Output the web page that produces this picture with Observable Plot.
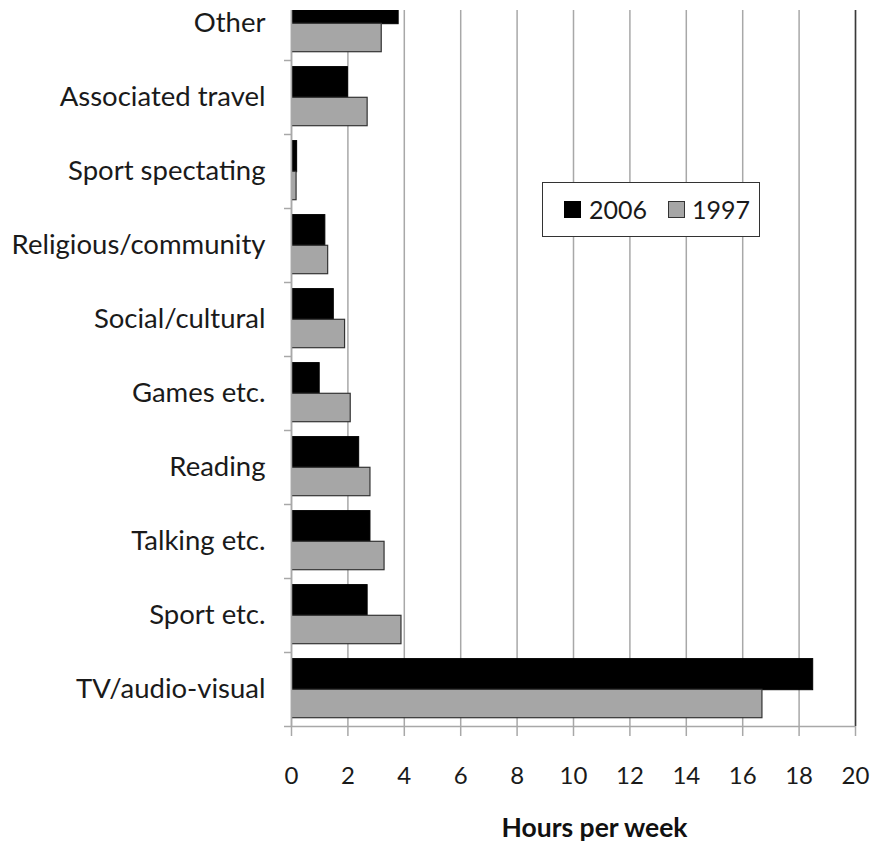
<!DOCTYPE html>
<html>
<head>
<meta charset="utf-8">
<script src="https://cdn.jsdelivr.net/npm/d3@7"></script>
<script src="https://cdn.jsdelivr.net/npm/@observablehq/plot@0.6"></script>
<style>
  body { margin: 0; background: #fff; font-family: Lato, sans-serif; }
  #wrap { position: relative; width: 873px; height: 843px; overflow: hidden; background: #fff; }
  #chart { position: absolute; left: 0; top: 10px; }
  #chart svg { overflow: visible; }
  #legend { position: absolute; left: 542px; top: 182px; width: 216px; height: 53px;
            border: 1.5px solid #333; background: #fff; }
  .sw { position: absolute; width: 15px; height: 15px; border: 1px solid #222; box-sizing: content-box; }
  .lt { position: absolute; font-size: 25px; color: #1a1a1a; line-height: 1; }
</style>
</head>
<body>
<div id="wrap">
  <div id="chart"></div>
  <div id="legend"></div>
</div>
<script>
// Leisure time by activity, hours per week (top to bottom)
const categories = [
  "Other", "Associated travel", "Sport spectating", "Religious/community",
  "Social/cultural", "Games etc.", "Reading", "Talking etc.", "Sport etc.",
  "TV/audio-visual"
];
const hours2006 = [3.8, 2.0, 0.2, 1.2, 1.5, 1.0, 2.4, 2.8, 2.7, 18.5];
const hours1997 = [3.2, 2.7, 0.18, 1.3, 1.9, 2.1, 2.8, 3.3, 3.9, 16.7];
const series = ["2006", "1997"];
const seriesColors = ["#000000", "#a6a6a6"];
const xTicks = [0, 2, 4, 6, 8, 10, 12, 14, 16, 18, 20];
const axisTitle = "Hours per week";

const rows = categories.flatMap((c, i) => [
  {category: c, year: "2006", value: hours2006[i]},
  {category: c, year: "1997", value: hours1997[i]}
]);

const grid = "#a8a8a8";
const lastCategory = categories[categories.length - 1];

const chart = Plot.plot({
  width: 873,
  height: 833,
  marginLeft: 291,
  marginRight: 18,
  marginTop: 0,
  marginBottom: 117,
  style: {fontFamily: "Lato, sans-serif", background: "#fff", color: "#1a1a1a"},
  x: {domain: [0, 20], ticks: xTicks},
  // the first band runs past the top of the frame and is cut by it
  y: {domain: categories, range: [-25, 716.3], padding: 0},
  color: {domain: series, range: seriesColors},
  marks: [
    Plot.gridX(xTicks, {stroke: grid, strokeOpacity: 1, strokeWidth: 1.5}),
    Plot.ruleX([20], {stroke: "#3a3a3a", strokeWidth: 1.5}),
    Plot.barX(rows.filter(d => d.year === "2006"), {
      x: "value", y: "category", fill: "#000", stroke: "#000", strokeWidth: 1,
      insetTop: 6.6, insetBottom: 36.3, clip: true
    }),
    Plot.barX(rows.filter(d => d.year === "1997"), {
      x: "value", y: "category", fill: "#a6a6a6", stroke: "#333", strokeWidth: 1.2,
      insetTop: 37.3, insetBottom: 8.3, clip: true
    }),
    // category boundary ticks on the vertical axis
    Plot.ruleY(categories, {y: d => d, x1: 0, x2: 0, insetLeft: -7, dy: 37, stroke: grid, strokeWidth: 1.5, clip: false}),
    // axis lines
    Plot.ruleX([0], {stroke: grid, strokeWidth: 1.5}),
    Plot.ruleY([lastCategory], {y: d => d, x1: 0, x2: 20, dy: 37, stroke: grid, strokeWidth: 1.5}),
    Plot.axisY({tickSize: 0, tickPadding: 26, fontSize: 27.5, label: null}),
    Plot.axisX(xTicks, {tickSize: 10, tickPadding: 30, fontSize: 24, stroke: grid, strokeWidth: 1.5, label: null}),
    Plot.text([axisTitle], {frameAnchor: "bottom", dy: 110, dx: 21, lineAnchor: "bottom",
      fontSize: 26.5, fontWeight: "bold", fill: "#111"})
  ]
});
document.getElementById("chart").appendChild(chart);

// legend box inside the plot area
const legend = d3.select("#legend");
const swatchX = [20.5, 124.5];
const labelX = [46, 149];
series.forEach((s, i) => {
  legend.append("div").attr("class", "sw")
    .style("left", swatchX[i] + "px").style("top", "18px")
    .style("background", seriesColors[i])
    .style("border-color", i === 0 ? "#000" : "#333");
  legend.append("div").attr("class", "lt")
    .style("left", labelX[i] + "px").style("top", "14px")
    .text(s);
});
</script>
</body>
</html>
